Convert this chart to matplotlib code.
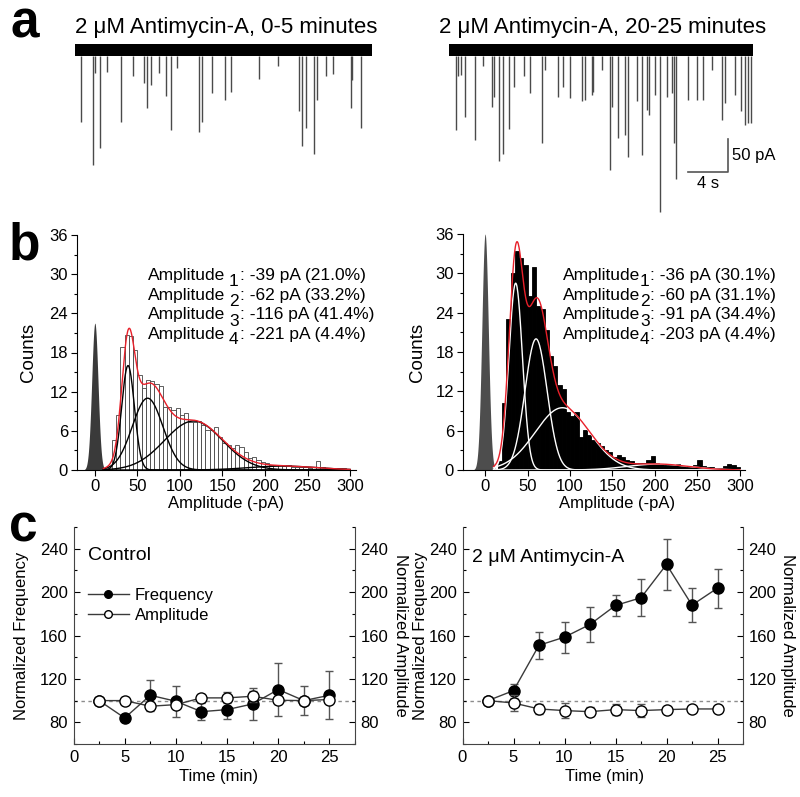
import numpy as np
import matplotlib.pyplot as plt
from matplotlib.lines import Line2D
from matplotlib.ticker import MultipleLocator

plt.rcParams['font.family'] = ['Liberation Sans', 'DejaVu Sans']

W, H = 800, 797

# ---------------- panel a : example traces (event times in s, amplitudes in pA)
trace_len = [29.7, 30.34]
noise_pA = 8.5
left_t = [0.57, 1.83, 2.0, 2.5, 3.17, 4.57, 5.83, 6.9, 7.23, 7.57, 8.4, 9.07, 9.57, 10.17,
          12.43, 12.73, 13.67, 15.0, 15.57, 18.4, 20.27, 22.43, 22.73, 23.1, 23.93, 24.17,
          25.1, 25.83, 27.57, 27.73, 28.57]
left_amp = [109, 175, 35, 149, 33, 109, 40, 50, 88, 53, 35, 70, 121, 28, 124, 109, 66, 76,
            64, 44, 25, 93, 145, 119, 158, 76, 39, 36, 88, 45, 119]
right_t = [0.67, 0.9, 1.17, 1.57, 2.57, 3.4, 4.24, 4.47, 5.0, 5.34, 5.97, 6.5, 7.5, 8.07,
           9.3, 9.57, 10.9, 11.4, 12.07, 13.24, 13.57, 14.24, 14.4, 15.24, 16.07, 16.3,
           16.9, 17.57, 17.9, 18.74, 19.24, 19.74, 20.0, 20.57, 21.07, 21.74, 22.24, 22.47,
           22.64, 23.9, 24.74, 25.4, 26.24, 27.24, 27.57, 28.57, 29.14, 29.57, 29.9, 30.14]
right_amp = [121, 40, 38, 101, 137, 25, 87, 71, 168, 157, 120, 56, 40, 66, 141, 30, 71, 56,
             73, 78, 76, 68, 63, 30, 182, 86, 134, 129, 162, 78, 159, 91, 98, 68, 245, 71,
             66, 141, 196, 76, 76, 76, 30, 106, 81, 68, 93, 114, 111, 111]
trace_titles = ['2 \u03bcM Antimycin-A, 0-5 minutes', '2 \u03bcM Antimycin-A, 20-25 minutes']
scale_s, scale_pA = 4, 50

# ---------------- panel b : amplitude histograms
bin_w = 5
ctrl_bin0 = 20
ctrl_counts = [4.6, 8.4, 18.9, 20.7, 20.5, 18.4, 14.5, 12.5, 13.8, 13.6, 13.1, 12.8, 9.7, 9.7,
               9.2, 9.5, 8.4, 8.7, 7.4, 7.4, 7.5, 6.9, 6.1, 6.1, 6.6, 5.1, 4.1, 3.8, 3.3, 3.8,
               3.6, 2.8, 1.8, 2.0, 1.5, 1.3, 1.0, 0.8, 0.8, 0.7, 0.6, 0.7, 0.5, 0.5, 0.4, 0.4,
               0.3, 0.4, 1.4, 0.4, 0.3, 0.3, 0.2, 0.3, 0.3, 0.2]
anti_bin0 = 15
anti_counts = [1.3, 10.2, 23, 30.1, 33.4, 32.3, 31.3, 26.6, 31, 25, 24.6, 21.4, 17.4, 15.8, 13,
               12.3, 8.9, 8.2, 8.9, 5.1, 6.1, 5.4, 4.6, 4.1, 3.7, 3.1, 2.8, 2.0, 2.3, 2.0, 1.5,
               1.3, 1.0, 1.0, 1.1, 1.5, 2.1, 1.0, 0.9, 0.8, 0.9, 0.8, 0.9, 0.6, 0.5, 0.4, 0.8,
               1.5, 0.6, 0.4, 0.4, 0.3, 0.3, 0.6, 0.9, 0.8, 0.5]
# baseline noise peak (peak, sd) and gaussian fit components (mean, peak, sd)
ctrl_noise = (22.5, 3.7)
anti_noise = (36, 3.8)
ctrl_fit_mean = [39, 62, 116, 221]
ctrl_fit_peak = [16, 11, 7.5, 0.6]
ctrl_fit_sd = [7.5, 18, 34, 40]
anti_fit_mean = [36, 60, 91, 203]
anti_fit_peak = [28.5, 20, 9.5, 0.9]
anti_fit_sd = [8, 13, 32, 36]
ctrl_label_amp = [-39, -62, -116, -221]
ctrl_label_pct = [21.0, 33.2, 41.4, 4.4]
anti_label_amp = [-36, -60, -91, -203]
anti_label_pct = [30.1, 31.1, 34.4, 4.4]

# ---------------- panel c : time course
times = [2.5, 5, 7.5, 10, 12.5, 15, 17.5, 20, 22.5, 25]
ctrl_freq = [100, 84, 104.9, 99.4, 89.8, 91.7, 96.9, 110.2, 100, 104.9]
ctrl_freq_err = [0, 0, 14.5, 14.4, 8, 9, 15, 24, 13, 22]
ctrl_ampl = [100, 100, 94.8, 96.3, 102.5, 102.5, 104, 100.3, 100, 101]
ctrl_ampl_err = [0, 3, 3, 3, 4, 5, 5, 3, 3, 3]
anti_freq = [100, 109.2, 151, 158.5, 170.2, 187.7, 194.8, 225.5, 188, 203.7]
anti_freq_err = [0, 6.5, 12.5, 14.3, 16.2, 10, 17, 23.7, 15.5, 18]
anti_ampl = [100, 97.8, 92.3, 90.8, 89.8, 91.7, 90.8, 91.7, 92.3, 92.3]
anti_ampl_err = [0, 7, 5, 7, 4, 5, 6, 2, 3, 2]


fig = plt.figure(figsize=(W / 100, H / 100), dpi=100)


def axes_px(x0, y0, x1, y1):
    return fig.add_axes([x0 / W, 1 - y1 / H, (x1 - x0) / W, (y1 - y0) / H])


def ftext(x, y, s, **kw):
    return fig.text(x / W, 1 - y / H, s, **kw)


def gauss(x, peak, mean, sd):
    return peak * np.exp(-(x - mean) ** 2 / (2 * sd ** 2))


# ---- a
trace_boxes = [(75, 40, 372, 215), (449.3, 40, 752.7, 215)]
events = [(left_t, left_amp), (right_t, right_amp)]
trace_axes = []
for box, T, (ev_t, ev_a) in zip(trace_boxes, trace_len, events):
    ax = axes_px(*box)
    ax.fill_between([0, T], -noise_pA, noise_pA, color='black', lw=0)
    ax.vlines(ev_t, -noise_pA, -np.array(ev_a), color='#4a4a4a', lw=1.0)
    ax.set_xlim(0, T)
    ax.set_ylim(-250, 15)
    ax.axis('off')
    trace_axes.append(ax)

ax = trace_axes[1]
bx, by = 27.87, -185
ax.plot([bx - scale_s, bx, bx], [by, by, by + scale_pA], color='#555555', lw=1.2)
ax.annotate('50 pA', (bx, by + scale_pA / 2), xytext=(3, 0), textcoords='offset points',
            ha='left', va='center', fontsize=12)
ax.annotate('4 s', (bx - scale_s / 2, by), xytext=(0, -3), textcoords='offset points',
            ha='center', va='top', fontsize=12)

ftext(75, 33, trace_titles[0], fontsize=16, va='baseline')
ftext(439, 33, trace_titles[1], fontsize=16, va='baseline')

# ---- b
hist_sets = [
    ((77, 235, 356, 470), (-21, 307), ctrl_bin0, ctrl_counts, 'white', '#444444',
     ctrl_noise, '#3a3a3a', (ctrl_fit_mean, ctrl_fit_peak, ctrl_fit_sd), 'black'),
    ((463, 234, 745, 470), (-26, 306), anti_bin0, anti_counts, 'black', 'black',
     anti_noise, '#4d4d4d', (anti_fit_mean, anti_fit_peak, anti_fit_sd), 'white'),
]
xfit = np.linspace(10, 300, 600)
xnoise = np.linspace(-20, 20, 200)
b_axes = []
for box, xl, b0, counts, fc, ec, noise, ncol, fit, compcol in hist_sets:
    ax = axes_px(*box)
    edges = b0 + bin_w * np.arange(len(counts))
    ax.bar(edges, counts, width=bin_w, align='edge', color=fc, edgecolor=ec, lw=0.6)
    ax.fill_between(xnoise, 0, gauss(xnoise, noise[0], 0, noise[1]), color=ncol, lw=0)
    total = np.zeros_like(xfit)
    for m, p, s in zip(*fit):
        comp = gauss(xfit, p, m, s)
        total += comp
        ax.plot(xfit, comp, color=compcol, lw=1.0)
    ax.plot(xfit, total, color='#e8202a', lw=1.0)
    ax.set_xlim(*xl)
    ax.set_ylim(0, 36)
    ax.spines['top'].set_visible(False)
    ax.spines['right'].set_visible(False)
    ax.set_yticks(range(0, 37, 6))
    ax.yaxis.set_minor_locator(MultipleLocator(3))
    ax.set_xticks(range(0, 301, 50))
    ax.tick_params(direction='out', length=4, width=0.8, labelsize=12, pad=2.5)
    ax.tick_params(which='minor', direction='out', length=2.5, width=0.8)
    ax.set_ylabel('Counts', fontsize=13.5, va='center')
    ax.set_xlabel('Amplitude (-pA)', fontsize=12, va='center')
    b_axes.append(ax)

b_axes[0].yaxis.set_label_coords(-0.174, 0.5)
b_axes[0].xaxis.set_label_coords(0.534, -0.142)
b_axes[1].yaxis.set_label_coords(-0.16, 0.5)
b_axes[1].xaxis.set_label_coords(0.546, -0.142)

rows_y = [280, 300, 319.5, 338.5]
for (xw, xs, xv), amps, pcts in [((148, 229, 240), ctrl_label_amp, ctrl_label_pct),
                                 ((563, 640, 650), anti_label_amp, anti_label_pct)]:
    for i, (a, p) in enumerate(zip(amps, pcts)):
        ftext(xw, rows_y[i], 'Amplitude', fontsize=12.5, va='baseline')
        ftext(xs, rows_y[i] + 6, str(i + 1), fontsize=12.5, va='baseline')
        ftext(xv, rows_y[i], f': {a} pA ({p:.1f}%)', fontsize=12.5, va='baseline')

# ---- c
c_sets = [((73.5, 527, 355, 744), ctrl_freq, ctrl_freq_err, ctrl_ampl, ctrl_ampl_err,
           'Control', 88, 560.5),
          ((462.5, 527, 743, 744), anti_freq, anti_freq_err, anti_ampl, anti_ampl_err,
           '2 \u03bcM Antimycin-A', 472, 561.5)]
c_axes = []
for box, fq, fqe, am, ame, name, tx, ty in c_sets:
    ax = axes_px(*box)
    ax.axhline(100, color='#8c8c8c', lw=1, ls=(0, (2.5, 2.5)), zorder=1)
    ax.errorbar(times, fq, yerr=fqe, fmt='none', ecolor='#555555', elinewidth=1,
                capsize=3, capthick=1, zorder=2)
    ax.plot(times, fq, '-o', color='#3a3a3a', lw=1, ms=8, mfc='black', mec='black',
            zorder=3)
    ax.errorbar(times, am, yerr=ame, fmt='none', ecolor='#555555', elinewidth=1,
                capsize=3, capthick=1, zorder=4)
    ax.plot(times, am, '-o', color='#3a3a3a', lw=1, ms=8, mfc='white', mec='black',
            mew=1, zorder=5)
    ax.set_xlim(0, 27.5)
    ax.set_ylim(60, 260)
    ax.spines['top'].set_visible(False)
    for sp in ['left', 'right', 'bottom']:
        ax.spines[sp].set_linewidth(0.8)
        ax.spines[sp].set_color('#444444')
    ax.set_xticks(range(0, 26, 5))
    ax.xaxis.set_minor_locator(MultipleLocator(2.5))
    ax.set_yticks(range(80, 241, 40))
    ax.yaxis.set_minor_locator(MultipleLocator(20))
    ax.tick_params(which='both', direction='in', left=True, right=True, labelright=True,
                   top=False, width=0.8)
    ax.tick_params(which='major', length=4, labelsize=12, pad=4)
    ax.tick_params(which='minor', length=2.5)
    ax.set_ylabel('Normalized Frequency', fontsize=12, va='center')
    ax.set_xlabel('Time (min)', fontsize=12, va='center')
    ftext(tx, ty, name, fontsize=14, va='baseline')
    c_axes.append(ax)

c_axes[0].yaxis.set_label_coords(-0.183, 0.5)
c_axes[0].xaxis.set_label_coords(0.515, -0.152)
c_axes[0].text(1.16, 0.5, 'Normalized Amplitude', rotation=270, fontsize=12,
               ha='center', va='center', transform=c_axes[0].transAxes)
c_axes[1].yaxis.set_label_coords(-0.1515, 0.5)
c_axes[1].xaxis.set_label_coords(0.508, -0.152)
c_axes[1].text(1.16, 0.5, 'Normalized Amplitude', rotation=270, fontsize=12,
               ha='center', va='center', transform=c_axes[1].transAxes)

handles = [Line2D([], [], color='#3a3a3a', lw=1, marker='o', ms=5.5, mfc='black', mec='black'),
           Line2D([], [], color='#3a3a3a', lw=1, marker='o', ms=5.5, mfc='white', mec='black')]
c_axes[0].legend(handles, ['Frequency', 'Amplitude'], loc='upper left',
                 bbox_to_anchor=(0.05, 0.72), frameon=False, fontsize=12,
                 handlelength=2.5, handletextpad=0.35, labelspacing=0.3,
                 borderpad=0, borderaxespad=0)

# panel letters
ftext(10, 37, 'a', fontsize=37, fontweight='bold', ha='left', va='baseline')
ftext(9, 260, 'b', fontsize=37, fontweight='bold', ha='left', va='baseline')
ftext(9, 542, 'c', fontsize=37, fontweight='bold', ha='left', va='baseline')

fig.savefig('out.png', dpi=100)
